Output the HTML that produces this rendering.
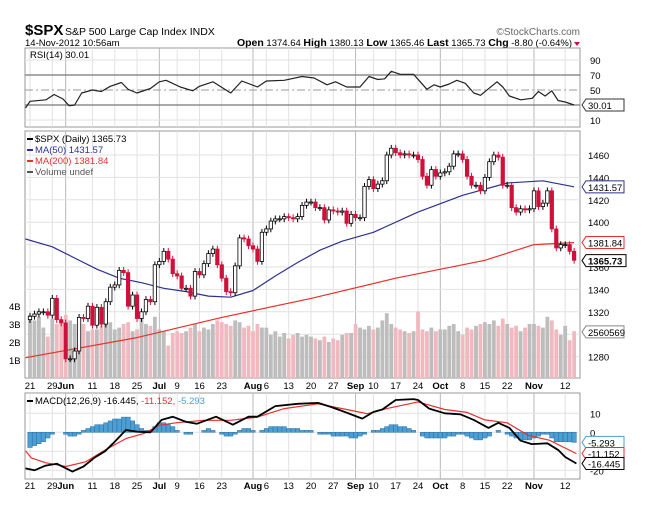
<!DOCTYPE html>
<html><head><meta charset="utf-8"><style>
body{margin:0;background:#fff;width:654px;height:520px;overflow:hidden;font-family:"Liberation Sans",sans-serif}
svg{position:absolute;left:0;top:0}
</style></head><body>
<svg id="c" width="654" height="520" xmlns="http://www.w3.org/2000/svg" font-family="Liberation Sans, sans-serif"></svg>
<script>
const closes=[1316,1318,1320,1320,1317,1332,1313,1310,1278,1278,1285,1315,1314,1325,1308,1324,1309,1329,1342,1344,1357,1355,1325,1335,1314,1320,1331,1329,1362,1365,1374,1367,1354,1352,1341,1341,1334,1356,1353,1363,1372,1376,1362,1350,1338,1337,1361,1386,1385,1379,1376,1365,1391,1394,1401,1403,1403,1405,1404,1403,1405,1415,1418,1418,1413,1413,1402,1411,1410,1409,1410,1399,1407,1404,1404,1432,1438,1430,1434,1437,1460,1466,1462,1460,1461,1460,1460,1456,1441,1433,1447,1441,1444,1445,1450,1461,1461,1456,1441,1433,1433,1428,1440,1454,1460,1458,1433,1433,1413,1409,1412,1411,1412,1428,1414,1417,1428,1394,1377,1380,1380,1374,1366];
const volumes=[3.5,3.2,3.4,2.8,2.3,3.3,3.0,3.0,3.5,3.2,3.0,2.9,3.0,2.6,2.7,2.7,2.9,3.2,3.1,2.7,2.8,3.0,3.1,2.6,2.7,3.4,3.0,2.9,3.4,2.7,2.6,1.8,2.5,2.6,2.5,2.6,2.8,3.0,2.6,2.8,2.7,3.0,3.2,3.1,3.0,2.9,3.2,3.1,2.8,2.9,2.6,3.0,2.8,2.8,2.4,2.6,2.3,2.5,2.2,2.4,2.5,2.3,2.4,2.3,2.2,2.1,2.3,2.0,2.2,2.1,2.4,2.5,2.5,3.0,2.8,2.7,2.9,2.7,2.8,3.2,3.6,3.0,2.8,2.7,2.6,2.5,2.6,3.7,2.7,2.6,2.8,2.6,2.7,2.7,2.9,3.0,2.6,2.4,2.8,2.7,2.9,3.0,3.1,3.0,3.2,2.9,3.3,3.0,2.8,2.9,2.6,2.8,3.0,3.0,2.9,2.8,3.4,3.2,2.7,2.4,2.9,2.1,2.6];
const ma50Day=[-1,5,10,15,20,25,30,35,40,45,50,55,60,65,70,77,87,97,107,115,122];
const ma50Val=[1385,1378,1368,1358,1350,1346,1341,1338,1334,1333,1339,1352,1364,1375,1383,1391,1409,1424,1435,1437,1431.6];
const ma200Day=[-1,24,43,63,82,102,113,122];
const ma200Val=[1279,1297,1315,1332,1350,1366,1380,1381.8];
const rsiDay=[-1,0,3.6,5.4,7.4,8.8,10,11.6,14,16,18,20.5,22,24,27,29,30.5,33.7,36.5,38,41,45,47.5,51,53,57,61,63.7,66.6,68.5,71,74,76,78,79.5,81,83,86,89,90.6,92,94,95.7,97.6,99.5,101,104.7,106,107.5,110,112.6,114,115.5,117,118.4,120,122];
const rsiVal=[26,35,37,44,38,29,30,46,50,48,55,60,51,46,52,61,63,54,49,55,61,46,62,54,62,63,68,66,57,61,54,54,68,64,65,75,71,71,51,57,54,58,63,59,46,43,61,54,42,37,39,48,42,49,36,34,30];
const macdDay=[-1,1,3.5,6,9.5,12,14.4,16.8,19,21.5,24,27,29.5,32,35,37.4,41.7,45.5,49,51,55,60,64.6,67.5,70,74.5,77,79,82,86,87,89.5,93,96.5,99.5,102.8,105,107.5,110,112.5,116,118.5,120,122.5];
const macdVal=[-19,-20,-17.5,-16.5,-20.7,-18,-13.5,-10,-5,1.2,0.3,0,6.5,8.2,5.5,4.5,8.2,4,8.2,8.2,13.8,15,15.5,13.3,11.2,7.2,10.7,12,17,17.5,17,12.5,10,9.5,6.5,2.3,5,2.3,-4.4,-6.2,-5.8,-9.4,-13,-16.4];
const sigDay=[-1,0.3,3.5,8,12.5,16.7,21.5,25.5,29,32.7,39,45,51,57,64.6,71,75.6,80,87,93,98,102,107,111.7,116.5,122.5];
const sigVal=[-9.7,-13.5,-16,-18,-15.5,-9.5,-3.3,-0.7,3.7,5,6.3,6.3,8,12.5,15,12,9.8,12.5,16,12,10.5,6.5,5,-1.6,-4.2,-11.2];
const hist=[-8,-7,-6,-5,-3,-1,0,0,-1,-2,-2,-1,1,2,3,4,4,5,6,7,7,8,8,6,4,2,1,1,3,5,5,4,3,1,0,-1,-1,0,0,1,2,1,0,-1,-2,-2,-1,1,2,2,1,0,1,2,3,3,3,3,2,2,2,1,1,1,0,-1,-1,-1,-2,-2,-2,-2,-3,-3,-2,-1,0,1,1,2,3,4,4,3,3,2,1,0,-2,-3,-3,-3,-3,-3,-2,-2,-1,-1,-2,-3,-4,-4,-3,-2,0,1,0,-1,-2,-3,-4,-4,-4,-3,-2,-1,-1,-3,-5,-5,-5,-5,-5.3];
const tickDay=[0,5,8,14,19,24,29,33,38,43,50,53,58,63,68,73,77,82,87,92,97,102,107,113,120];
const tickLab=["21","29","Jun","11","18","25","Jul","9","16","23","Aug","6","13","20","27","Sep","10","17","24","Oct","8","15","22","Nov","12"];
const priceTicks=[1280,1300,1320,1340,1360,1380,1400,1420,1440,1460];
const priceLab=["1280","","1320","1340","1360","","1400","1420","1440","1460"];
const volTicks=[1,2,3,4];
const rsiTicks=[90,70,50,30,10];
const macdTicks=[10,0,-20];

const svg=document.getElementById('c');const NS='http://www.w3.org/2000/svg';
function el(t,a,txt,p){const e=document.createElementNS(NS,t);for(const k in a)e.setAttribute(k,a[k]);if(txt!=null)e.textContent=txt;(p||svg).appendChild(e);return e;}
const L=25,R=580;
const xd=d=>30+d*4.46;
const yp=p=>155+(1460-p)*1.12;
const yv=v=>378-v*18;
const yr=v=>127.5-v*0.75;
const ym=v=>432.3-v*1.9;
const monthIdx=[2,6,10,15,19,23];

// Header
let t;
t=el('text',{x:25,y:35,'font-size':15,'font-weight':'bold',fill:'#000'},'$SPX');

t=el('text',{x:65,y:35,'font-size':10.5,fill:'#000'},'S&P 500 Large Cap Index  INDX');

t=el('text',{x:580,y:35,'font-size':10,fill:'#666','text-anchor':'end'},'©StockCharts.com');

t=el('text',{x:25,y:46,'font-size':9.5,fill:'#000'},'14-Nov-2012 10:56am');

const q=el('text',{x:572,y:46,'font-size':9.5,fill:'#000','text-anchor':'end'},null);

[['Open',' 1374.64 '],['High',' 1380.13 '],['Low',' 1365.46 '],['Last',' 1365.73 '],['Chg',' -8.80 (-0.64%)']].forEach(([a,b])=>{el('tspan',{'font-weight':'bold','font-size':10.5},a,q);el('tspan',{},b+' ',q);});
el('path',{d:'M574 42 l6 0 l-3 4 z',fill:'#c0143c'});

function panel(y0,y1,name){
  const r=el('rect',{x:L,y:y0,width:R-L,height:y1-y0,fill:'#fff',stroke:'#999','stroke-width':1});
  
  tickDay.forEach((d,i)=>{const l=el('line',{x1:xd(d),x2:xd(d),y1:y0,y2:y1,stroke:monthIdx.includes(i)?'#b8b8b8':'#e2e2e2','stroke-width':1});
  });
}
function poly(days,vals,fy,color,w,name){
  const pts=days.map((d,i)=>xd(d).toFixed(1)+','+fy(vals[i]).toFixed(1)).join(' ');
  const p=el('polyline',{points:pts,fill:'none',stroke:color,'stroke-width':w,'stroke-linejoin':'round'});
  
}
function tag(y,txt,color,name,bold){
  const g=el('g',{});
  el('path',{d:`M${R+2} ${y} l4 -6 h${bold?40:38} v12 h-${bold?40:38} z`,fill:'#fff',stroke:color,'stroke-width':1},null,g);
  el('text',{x:R+8,y:y+4,'font-size':9.5,'font-weight':bold?'bold':'normal',fill:'#000'},txt,g);
}

// RSI panel
panel(48,127,'rsi-panel');
rsiTicks.forEach(v=>{el('line',{x1:L,x2:R,y1:yr(v),y2:yr(v),stroke:(v==70||v==30)?'#777':(v==50?'#999':'#e2e2e2'),'stroke-width':(v==70||v==30)?1.2:1,'stroke-dasharray':v==50?'8,3,2,3':'none'});
 t=el('text',{x:590,y:yr(v)+4,'font-size':9.5,fill:'#000'},String(v));});
poly(rsiDay,rsiVal,yr,'#222',1.2,'rsi-line');
t=el('text',{x:30,y:58,'font-size':9.5,fill:'#000'},'RSI(14) 30.01');
tag(yr(30),'30.01','#333','rsi-value-tag');

// Price panel
panel(131,378,'price-panel');
priceTicks.forEach((p,i)=>{el('line',{x1:L,x2:R,y1:yp(p),y2:yp(p),stroke:'#e2e2e2'});
 if(priceLab[i]){t=el('text',{x:588,y:yp(p)+4,'font-size':9.5,fill:'#000'},priceLab[i]);}});
volTicks.forEach(v=>{t=el('text',{x:9,y:yv(v)+4,'font-size':9.5,fill:'#000'},v+'B');});
volumes.forEach((v,i)=>{const down=i>0&&closes[i]<closes[i-1];
 const b=el('rect',{x:xd(i)-1.9,y:yv(v),width:3.8,height:378-yv(v),fill:down?'#f0b9bf':'#bdbdbd'});
 });
poly(ma200Day,ma200Val,yp,'#e8302c',1.2,'ma200-line');
poly(ma50Day,ma50Val,yp,'#2e3192',1.2,'ma50-line');
closes.forEach((c,i)=>{const o=i>0?closes[i-1]:c-3;const up=c>=o;
 const hi=Math.max(o,c)+3,lo=Math.min(o,c)-3;const x=xd(i);
 const g=el('g',{});
 el('line',{x1:x,x2:x,y1:yp(hi),y2:yp(lo),stroke:up?'#000':'#d0103a','stroke-width':1},null,g);
 el('rect',{x:x-1.7,y:yp(Math.max(o,c)),width:3.4,height:Math.max(1,Math.abs(yp(o)-yp(c))),fill:up?'#fff':'#d0103a',stroke:up?'#000':'#d0103a','stroke-width':0.8},null,g);});
[['$SPX (Daily) 1365.73','#000'],['MA(50) 1431.57','#2e3192'],['MA(200) 1381.84','#e8302c'],['Volume undef','#555']].forEach(([s,c],i)=>{
 el('rect',{x:27,y:138+i*11,width:6,height:2,fill:c});
 t=el('text',{x:35,y:142+i*11,'font-size':9.5,fill:c},s);});
tag(yp(1431.57),'1431.57','#2e3192','ma50-value-tag');
tag(yp(1381.84),'1381.84','#e8302c','ma200-value-tag');
tag(yp(1365.73),'1365.73','#000','price-value-tag',true);
tag(yv(2.56),'2560569','#888','volume-value-tag');

// date labels
function dates(y,name){tickDay.forEach((d,i)=>{t=el('text',{x:xd(d),y:y,'font-size':9.5,'font-weight':monthIdx.includes(i)?'bold':'normal',fill:'#000','text-anchor':'middle'},tickLab[i]);
 });}
dates(389,'x-tick-label');

// MACD panel
panel(393,479,'macd-panel');
macdTicks.concat([-10]).forEach(v=>{el('line',{x1:L,x2:R,y1:ym(v),y2:ym(v),stroke:'#e2e2e2'});});
macdTicks.forEach(v=>{t=el('text',{x:590,y:ym(v)+4,'font-size':9.5,fill:'#000'},String(v));});
hist.forEach((h,i)=>{const y=Math.min(ym(0),ym(h));
 const b=el('rect',{x:xd(i)-2.2,y:y,width:4.4,height:Math.abs(ym(h)-ym(0)),fill:'#4b9fd5',stroke:'#2a6fa0','stroke-width':0.5});
 });
poly(sigDay,sigVal,ym,'#e8302c',1.2,'macd-signal-line');
poly(macdDay,macdVal,ym,'#000',1.8,'macd-line');
el('rect',{x:27,y:400,width:6,height:2,fill:'#000'});
const ml=el('text',{x:35,y:404,'font-size':9.5,fill:'#000'},null);
el('tspan',{},'MACD(12,26,9) -16.445, ',ml);el('tspan',{fill:'#e8302c'},'-11.152, ',ml);el('tspan',{fill:'#4b9fd5'},'-5.293',ml);
tag(ym(-5.293),'-5.293','#4b9fd5','histogram-value-tag');
tag(ym(-11.152),'-11.152','#e8302c','signal-value-tag');
tag(ym(-16.445),'-16.445','#000','macd-value-tag');
dates(489,'x-tick-label-bottom');
</script>
</body></html>
